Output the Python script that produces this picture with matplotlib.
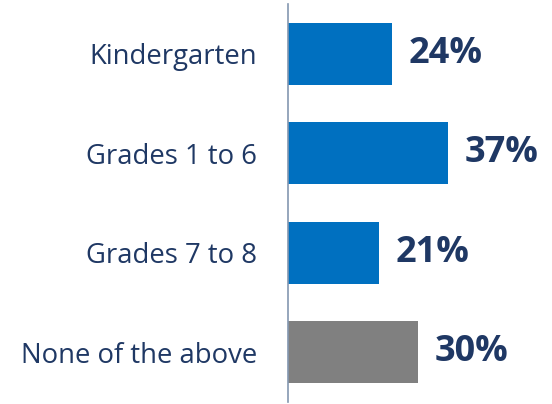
import matplotlib.pyplot as plt

categories = ["Kindergarten", "Grades 1 to 6", "Grades 7 to 8", "None of the above"]
values = [24, 37, 21, 30]
colors = ["#0070C0", "#0070C0", "#0070C0", "#808080"]

plt.rcParams['font.family'] = ['Open Sans', 'DejaVu Sans']
navy = "#1F3864"

fig = plt.figure(figsize=(5.52, 4.04), dpi=100)
ax = fig.add_axes([288/552, 2/404, 1 - 288/552, 398/404])

ypos = range(len(categories))
ax.barh(ypos, values, height=0.62, color=colors)
ax.set_ylim(3.5, -0.5)
ax.set_xlim(0, 61)

for y, v in zip(ypos, values):
    ax.text(v + 3.8, y, f"{v}%", va="center", ha="left", fontsize=26,
            fontweight="bold", color=navy)

ax.set_yticks(list(ypos))
ax.set_yticklabels(categories, fontsize=19.8, color=navy)
ax.tick_params(axis="y", length=0, pad=22)
ax.set_xticks([])
for s in ["top", "right", "bottom"]:
    ax.spines[s].set_visible(False)
ax.spines["left"].set_color("#8497B0")
ax.spines["left"].set_linewidth(1.2)

fig.savefig("out.png", dpi=100)
